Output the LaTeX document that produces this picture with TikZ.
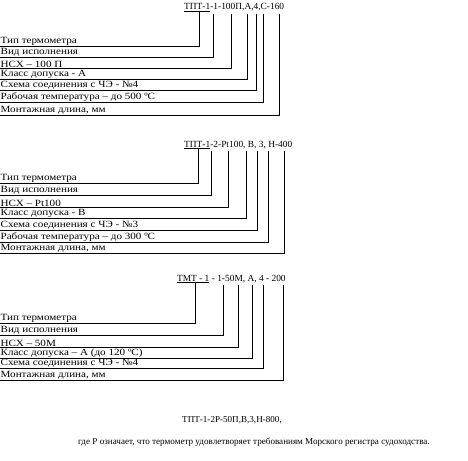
\documentclass[tikz,border=0pt]{standalone}
\usepackage{fontspec}
\setmainfont{Liberation Serif}
\newfontfamily\lblfont[FakeStretch=1.17]{Liberation Serif}
\usetikzlibrary{positioning}

\begin{document}
\begin{tikzpicture}[x=1pt, y=-1pt,
    lbl/.style={anchor=south west, inner sep=0.4pt, font=\lblfont\fontsize{9.5}{10}\selectfont},
    code/.style={anchor=base west, inner sep=0pt, font=\fontsize{9.4}{10}\selectfont},
    note/.style={anchor=base west, inner sep=0pt, font=\fontsize{9.1}{10}\selectfont},
    lead/.style={line width=0.6pt}
  ]
  \useasboundingbox (0,0) rectangle (468,460);

  % first example
  \node[code] (codeA) at (184,10) {\underline{ТПТ-1}-1-100П,А,4,С-160};
  \coordinate (a1) at (199,12);
  \coordinate (a2) at (213,14);
  \coordinate (a3) at (231,14);
  \coordinate (a4) at (247,14);
  \coordinate (a5) at (256,14);
  \coordinate (a6) at (263,14);
  \coordinate (a7) at (279,14);
  \node[lbl] (tipA) at (0,46) {Тип термометра};
  \node[lbl] (vidA) at (0,57) {Вид исполнения};
  \node[lbl] (nsxA) at (0,68) {НСХ – 100 П};
  \node[lbl] (klA) at (0,79) {Класс допуска - А};
  \node[lbl] (shA) at (0,90) {Схема соединения с ЧЭ - №4};
  \node[lbl] (rabA) at (0,102) {Рабочая температура – до 500 ºС};
  \node[lbl] (monA) at (0,115) {Монтажная длина, мм};
  \draw[lead] (tipA.south west) -| (a1);
  \draw[lead] (vidA.south west) -| (a2);
  \draw[lead] (nsxA.south west) -| (a3);
  \draw[lead] (klA.south west) -| (a4);
  \draw[lead] (shA.south west) -| (a5);
  \draw[lead] (rabA.south west) -| (a6);
  \draw[lead] (monA.south west) -| (a7);

  % second example
  \node[code] (codeB) at (184,147) {\underline{ТПТ-1}-2-Pt100, В, 3, Н-400};
  \coordinate (b1) at (198,149);
  \coordinate (b2) at (211,151);
  \coordinate (b3) at (228,151);
  \coordinate (b4) at (246,151);
  \coordinate (b5) at (257,151);
  \coordinate (b6) at (268,151);
  \coordinate (b7) at (284,151);
  \node[lbl] (tipB) at (0,183) {Тип термометра};
  \node[lbl] (vidB) at (0,195) {Вид исполнения};
  \node[lbl] (nsxB) at (0,207) {НСХ – Pt100};
  \node[lbl] (klB) at (0,218) {Класс допуска - В};
  \node[lbl] (shB) at (0,230) {Схема соединения с ЧЭ - №3};
  \node[lbl] (rabB) at (0,242) {Рабочая температура – до 300 ºС};
  \node[lbl] (monB) at (0,253) {Монтажная длина, мм};
  \draw[lead] (tipB.south west) -| (b1);
  \draw[lead] (vidB.south west) -| (b2);
  \draw[lead] (nsxB.south west) -| (b3);
  \draw[lead] (klB.south west) -| (b4);
  \draw[lead] (shB.south west) -| (b5);
  \draw[lead] (rabB.south west) -| (b6);
  \draw[lead] (monB.south west) -| (b7);

  % third example
  \node[code] (codeC) at (177,281) {\underline{ТМТ - 1} - 1-50М, А, 4 - 200};
  \coordinate (c1) at (195,283);
  \coordinate (c2) at (223,285);
  \coordinate (c3) at (238,285);
  \coordinate (c4) at (252,285);
  \coordinate (c5) at (263,285);
  \coordinate (c6) at (283,285);
  \node[lbl] (tipC) at (0,323) {Тип термометра};
  \node[lbl] (vidC) at (0,335) {Вид исполнения};
  \node[lbl] (nsxC) at (0,347) {НСХ – 50М};
  \node[lbl] (klC) at (0,358) {Класс допуска – А (до 120 ºС)};
  \node[lbl] (shC) at (0,368) {Схема соединения с ЧЭ - №4};
  \node[lbl] (monC) at (0,380) {Монтажная длина, мм};
  \draw[lead] (tipC.south west) -| (c1);
  \draw[lead] (vidC.south west) -| (c2);
  \draw[lead] (nsxC.south west) -| (c3);
  \draw[lead] (klC.south west) -| (c4);
  \draw[lead] (shC.south west) -| (c5);
  \draw[lead] (monC.south west) -| (c6);

  % sea register
  \node[note] (codeD) at (182,422) {ТПТ-1-2Р-50П,В,3,Н-800,};
  \node[note] (where) at (78,444) {где Р означает, что термометр удовлетворяет требованиям Морского регистра судоходства.};
\end{tikzpicture}
\end{document}
